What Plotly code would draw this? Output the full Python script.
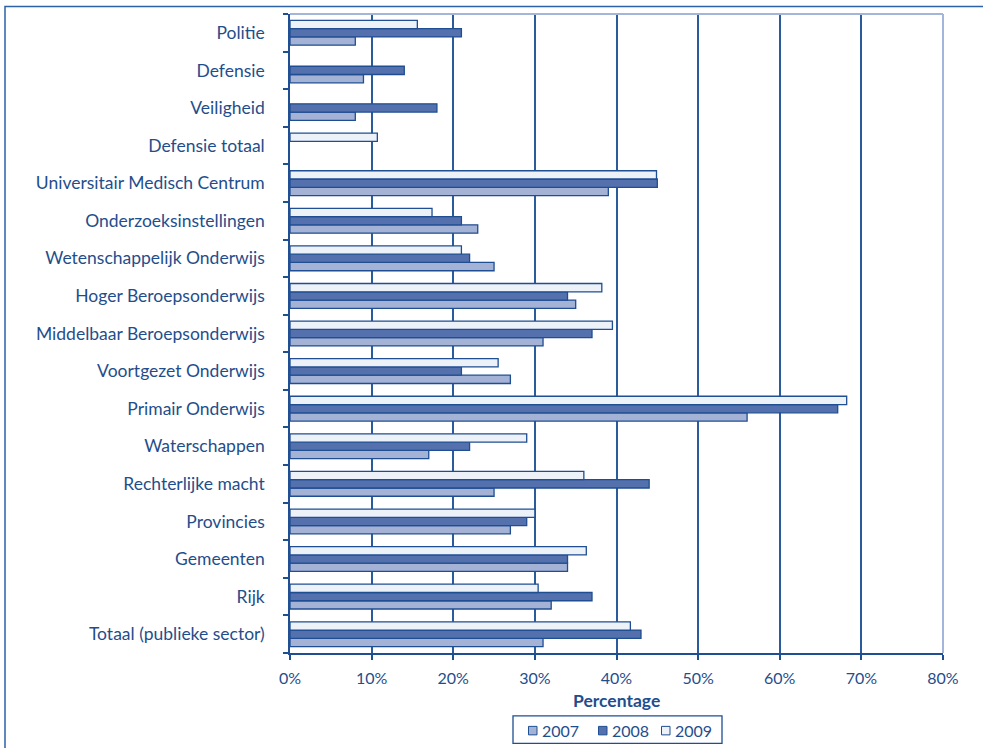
import plotly.graph_objects as go

# Sectors, listed top to bottom as they appear in the chart
sectors = [
    "Politie", "Defensie", "Veiligheid", "Defensie totaal",
    "Universitair Medisch Centrum", "Onderzoeksinstellingen",
    "Wetenschappelijk Onderwijs", "Hoger Beroepsonderwijs",
    "Middelbaar Beroepsonderwijs", "Voortgezet Onderwijs",
    "Primair Onderwijs", "Waterschappen", "Rechterlijke macht",
    "Provincies", "Gemeenten", "Rijk", "Totaal (publieke sector)",
]

# Percentages per year (None = no value reported)
pct_2007 = [8, 9, 8, None, 39, 23, 25, 35, 31, 27, 56, 17, 25, 27, 34, 32, 31]
pct_2008 = [21, 14, 18, None, 45, 21, 22, 34, 37, 21, 67.1, 22, 44, 29, 34, 37, 43]
pct_2009 = [15.6, None, None, 10.7, 44.9, 17.4, 21, 38.2, 39.5, 25.5, 68.2, 29, 36, 30, 36.3, 30.4, 41.7]

years = ["2007", "2008", "2009"]
x_ticks = [0, 10, 20, 30, 40, 50, 60, 70, 80]
x_tick_labels = [f"{v}%" for v in x_ticks]

BLUE = "#1F4E92"
TEXT = "#1F4E8C"
FONT = "Lato, 'Open Sans', sans-serif"
fills = ["#A4B2D6", "#5571AD", "#EDF1F8"]

fig = go.Figure()
for name, vals, color in zip(years, [pct_2007, pct_2008, pct_2009], fills):
    fig.add_trace(go.Bar(
        name=name, y=sectors, x=vals, orientation="h",
        marker=dict(color=color, line=dict(color=BLUE, width=1.3)),
        showlegend=False,
    ))

# plot area in pixels: x 290..943, y 13.5..653.5
L, R, T, B = 290, 983 - 943, 13.5, 748 - 653.5
PW, PH = 943 - 290, 653.5 - 13.5

def px_x(p):
    return (p - L) / PW

def px_y(p):
    return (653.5 - p) / PH

shapes = [
    # light frame along the top and right of the plot area
    dict(type="line", xref="paper", yref="paper", x0=0, x1=1, y0=1, y1=1,
         line=dict(color="#A3B5DA", width=2)),
    dict(type="line", xref="paper", yref="paper", x0=1, x1=1, y0=0, y1=1,
         line=dict(color="#A3B5DA", width=2)),
    # outer chart frame
    dict(type="rect", xref="paper", yref="paper",
         x0=px_x(5), x1=px_x(995), y0=px_y(760), y1=px_y(6),
         line=dict(color="#2B62A8", width=1.5), fillcolor="rgba(0,0,0,0)",
         layer="below"),
    # legend box
    dict(type="rect", xref="paper", yref="paper",
         x0=px_x(513), x1=px_x(722), y0=px_y(744), y1=px_y(716.5),
         line=dict(color=BLUE, width=1.3), fillcolor="white"),
]

# axis title
annotations = [dict(
    text="<b>Percentage</b>", xref="paper", yref="paper",
    x=px_x(616.5), y=px_y(701), xanchor="center", yanchor="middle",
    showarrow=False, font=dict(size=17.5, color=TEXT, family=FONT),
)]

# legend entries: swatch + year label
swatch_x = [528.5, 598.5, 661.5]
for yr, fill, sx in zip(years, fills, swatch_x):
    shapes.append(dict(
        type="rect", xref="paper", yref="paper",
        x0=px_x(sx), x1=px_x(sx + 8.5), y0=px_y(735.5), y1=px_y(727),
        line=dict(color=BLUE, width=1), fillcolor=fill,
    ))
    annotations.append(dict(
        text=yr, xref="paper", yref="paper", x=px_x(sx + 11), y=px_y(731.5),
        xanchor="left", yanchor="middle", showarrow=False,
        font=dict(size=16, color=TEXT, family=FONT),
    ))

fig.update_layout(
    width=983, height=748,
    margin=dict(l=L, r=R, t=T, b=B, pad=0, autoexpand=False),
    paper_bgcolor="white", plot_bgcolor="white",
    barmode="group", bargap=0.34, bargroupgap=0,
    font=dict(family=FONT, color=TEXT, size=16),
    showlegend=False,
    xaxis=dict(
        range=[0, 80], tickvals=x_ticks, ticktext=x_tick_labels,
        showgrid=True, gridcolor="#2A5C9C", gridwidth=1.5,
        showline=True, linecolor=BLUE, linewidth=1.5,
        ticks="outside", ticklen=5, tickcolor=BLUE, tickwidth=1.5,
        tickfont=dict(size=16, color=TEXT),
        ticklabelstandoff=5,
        zeroline=False, automargin=False,
    ),
    yaxis=dict(
        categoryorder="array", categoryarray=sectors[::-1],
        showline=True, linecolor=BLUE, linewidth=1.5,
        ticks="outside", ticklen=5, tickcolor=BLUE, tickwidth=1.5,
        tickson="boundaries",
        tickfont=dict(size=17.5, color=TEXT),
        ticklabelstandoff=20,
        showgrid=False, zeroline=False, automargin=False,
    ),
    shapes=shapes,
    annotations=annotations,
)

fig.write_html("out.html")
